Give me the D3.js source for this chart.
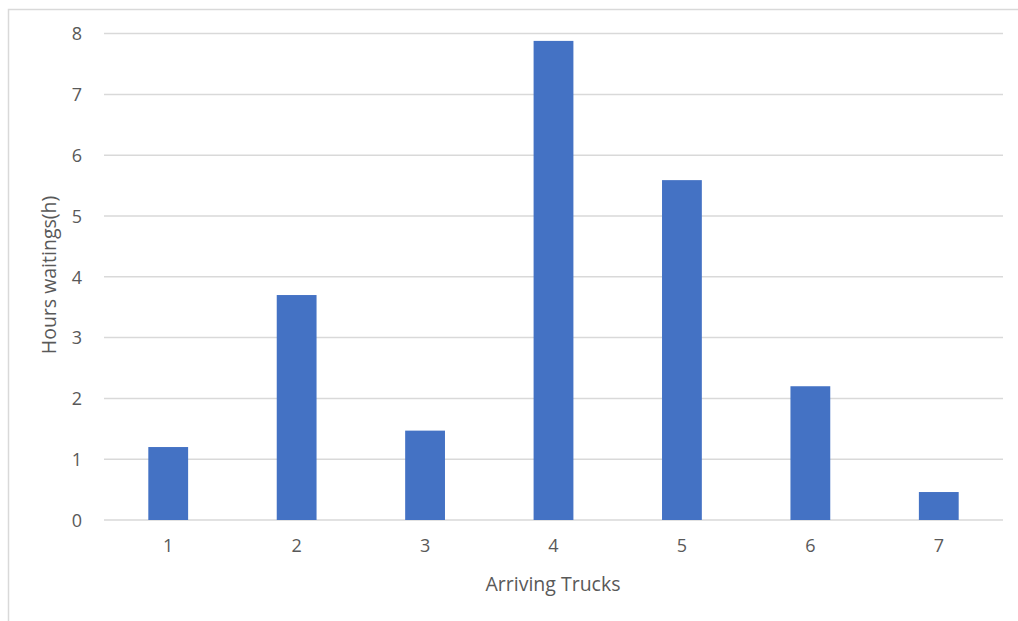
<!DOCTYPE html>
<html><head><meta charset="utf-8">
<script src="https://cdn.jsdelivr.net/npm/d3@7"></script>
<style>body{margin:0;background:#fff;}svg{display:block;}</style>
</head><body>
<svg id="c" width="1018" height="621"></svg>
<script>
const categories = ["1","2","3","4","5","6","7"];
const values = [1.2, 3.7, 1.47, 7.88, 5.59, 2.2, 0.46];
const yTicks = [0,1,2,3,4,5,6,7,8];
const xTitle = "Arriving Trucks";
const yTitle = "Hours waitings(h)";

const svg = d3.select("#c");
const font = "Open Sans, Noto Sans, sans-serif";
const textColor = "#595959";
const gridColor = "#d9d9d9";

// outer frame
svg.append("rect").attr("x",8.5).attr("y",9.5).attr("width",1020).attr("height",620)
  .attr("fill","none").attr("stroke","#d9d9d9").attr("stroke-width",1.5);

const x = d3.scaleBand().domain(categories).range([104,1003]).paddingInner(0.69).paddingOuter(0.345);
const y = d3.scaleLinear().domain([0,8]).range([520,33.6]);

// gridlines
svg.append("g").selectAll("line").data(yTicks).join("line")
  .attr("x1",104).attr("x2",1003)
  .attr("y1",d=>y(d)).attr("y2",d=>y(d))
  .attr("stroke",gridColor).attr("stroke-width",1.5);

// bars
svg.append("g").selectAll("rect").data(values).join("rect")
  .attr("x",(d,i)=>x(categories[i]))
  .attr("width",x.bandwidth())
  .attr("y",d=>y(d))
  .attr("height",d=>y(0)-y(d))
  .attr("fill","#4472C4");

// y axis labels
const yAxis = d3.axisLeft(y).tickValues(yTicks).tickSize(0).tickPadding(0);
const gy = svg.append("g").attr("transform","translate(84,0)").call(yAxis);
gy.select(".domain").remove();
gy.selectAll("text").attr("font-family",font).attr("font-size",18).attr("fill",textColor).attr("text-anchor","middle").attr("dy","0.35em").attr("x",-7);

// x axis labels
const xAxis = d3.axisBottom(x).tickSize(0).tickPadding(0);
const gx = svg.append("g").attr("transform","translate(0,539)").call(xAxis);
gx.select(".domain").remove();
gx.selectAll("text").attr("font-family",font).attr("font-size",18).attr("fill",textColor).attr("dy","0.71em");

// titles
svg.append("text").attr("x",553).attr("y",591).attr("text-anchor","middle")
  .attr("font-family",font).attr("font-size",19.5).attr("fill",textColor).text(xTitle);
svg.append("text").attr("transform","translate(56,275) rotate(-90)").attr("text-anchor","middle")
  .attr("font-family",font).attr("font-size",19.5).attr("fill",textColor).text(yTitle);
</script>
</body></html>
